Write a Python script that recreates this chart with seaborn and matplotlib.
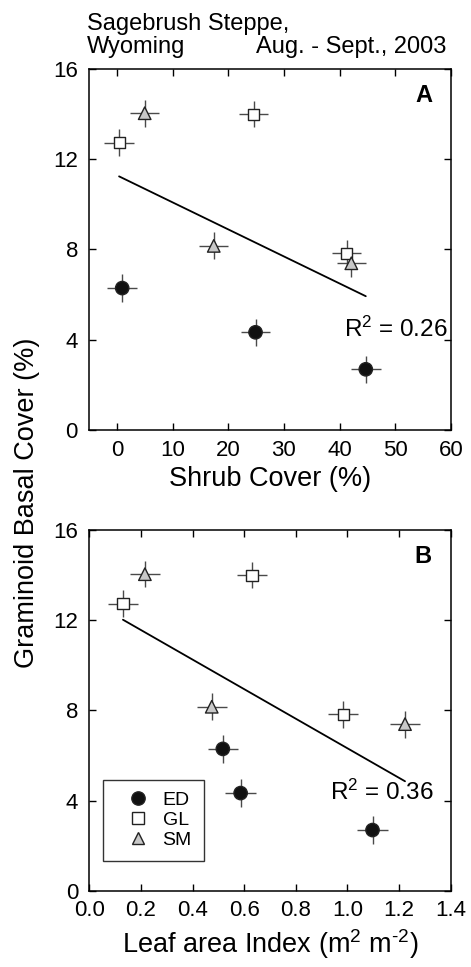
import matplotlib
matplotlib.use("Agg")
import matplotlib.pyplot as plt
from matplotlib.lines import Line2D
import seaborn as sns
import pandas as pd

# ---------------- data ----------------
sites = ["ED", "ED", "ED", "GL", "GL", "GL", "SM", "SM", "SM"]
shrub_cover = [0.96, 24.9, 44.7, 0.4, 24.6, 41.3, 5.0, 17.4, 42.1]
shrub_err = [2.65, 2.65, 2.7, 2.65, 2.6, 2.6, 2.65, 2.6, 2.6]
leaf_area_index = [0.517, 0.586, 1.097, 0.13, 0.63, 0.984, 0.215, 0.474, 1.223]
lai_err = [0.058, 0.059, 0.06, 0.058, 0.058, 0.058, 0.058, 0.058, 0.058]
basal_cover = [6.29, 4.33, 2.69, 12.73, 14.0, 7.83, 14.04, 8.16, 7.39]
basal_err = [0.62, 0.61, 0.61, 0.6, 0.59, 0.6, 0.59, 0.6, 0.6]

r2_texts = ["R$^2$ = 0.26", "R$^2$ = 0.36"]
panel_labels = ["A", "B"]
xticks_a = [0, 10, 20, 30, 40, 50, 60]
xticks_b = [0.0, 0.2, 0.4, 0.6, 0.8, 1.0, 1.2, 1.4]
yticks = [0, 4, 8, 12, 16]

df = pd.DataFrame({"site": sites, "shrub": shrub_cover, "shrub_err": shrub_err,
                   "lai": leaf_area_index, "lai_err": lai_err,
                   "basal": basal_cover, "basal_err": basal_err})

# ---------------- style ----------------
sns.set_style("ticks")
plt.rcParams["font.family"] = ["Liberation Sans", "DejaVu Sans"]
plt.rcParams["mathtext.fontset"] = "custom"
plt.rcParams["mathtext.rm"] = "Liberation Sans"
plt.rcParams["mathtext.it"] = "Liberation Sans:italic"
plt.rcParams["mathtext.bf"] = "Liberation Sans:bold"
plt.rcParams["mathtext.default"] = "regular"
plt.rcParams["text.color"] = "black"
plt.rcParams["axes.labelcolor"] = "black"
plt.rcParams["xtick.color"] = "black"
plt.rcParams["ytick.color"] = "black"
plt.rcParams["axes.unicode_minus"] = False

markers = {"ED": "o", "GL": "s", "SM": "^"}
palette = {"ED": "#111111", "GL": "#ffffff", "SM": "#c8c8c8"}
sizes = {"ED": 92, "GL": 64, "SM": 81}
err_color = "#4a4a4a"

W, H = 471, 967
fig = plt.figure(figsize=(W / 100, H / 100), dpi=100)
axA = fig.add_axes([89 / W, 1 - 430 / H, (451 - 89) / W, (430 - 69) / H])
axB = fig.add_axes([89.4 / W, 1 - 890.7 / H, (450.7 - 89.4) / W, (890.7 - 530) / H])


def draw_panel(ax, xcol, xerrcol, xlim, xticks, xfmt, xlabel, r2, r2pos, label):
    ax.errorbar(df[xcol], df["basal"], xerr=df[xerrcol], yerr=df["basal_err"],
                fmt="none", ecolor=err_color, elinewidth=1.0, capsize=0, zorder=2)
    sns.regplot(data=df, x=xcol, y="basal", scatter=False, ci=None, truncate=True,
                color="black", line_kws={"lw": 1.3, "zorder": 1}, ax=ax)
    sns.scatterplot(data=df, x=xcol, y="basal", hue="site", style="site", size="site",
                    markers=markers, palette=palette, sizes=sizes,
                    edgecolor="#222222", linewidth=1.0, legend=False, zorder=3, ax=ax)
    ax.set_xlim(*xlim)
    ax.set_ylim(0, 16)
    ax.set_xticks(xticks)
    ax.set_xticklabels([xfmt.format(v) for v in xticks])
    ax.set_yticks(yticks)
    ax.tick_params(direction="in", top=True, right=True, length=5, width=1.0,
                   labelsize=16, colors="black")
    ax.tick_params(axis="x", pad=7)
    ax.tick_params(axis="y", pad=8)
    for s in ax.spines.values():
        s.set_linewidth(1.1)
        s.set_color("black")
    ax.set_xlabel(xlabel, fontsize=19.5, labelpad=4, color="black")
    ax.set_ylabel("")
    ax.text(r2pos[0], r2pos[1], r2, fontsize=17.5, ha="left", va="baseline",
            transform=ax.transData, color="black")
    ax.text(0.9475, 0.909, label, fontsize=17, fontweight="bold", ha="right",
            va="baseline", transform=ax.transAxes, color="black")


draw_panel(axA, "shrub", "shrub_err", (-5, 60), xticks_a, "{:d}", "Shrub Cover (%)",
           r2_texts[0], (40.7, 4.11), panel_labels[0])
draw_panel(axB, "lai", "lai_err", (0, 1.4), xticks_b, "{:.1f}",
           "Leaf area Index (m$^2$ m$^{\u2010 2}$)".replace("\u2010 ", "\u2010"),
           r2_texts[1], (0.933, 4.02), panel_labels[1])

# legend in panel B
handles = [Line2D([], [], linestyle="none", marker=markers[k], markersize=sizes[k] ** 0.5,
                  markerfacecolor=palette[k], markeredgecolor="#222222",
                  markeredgewidth=1.0, label=k) for k in ["ED", "GL", "SM"]]
leg = axB.legend(handles=handles, loc="upper left", bbox_to_anchor=(0.0385, 0.307),
                 fontsize=14, frameon=True, fancybox=False, edgecolor="black",
                 borderpad=0.6, handlelength=2.4, handletextpad=0.05,
                 labelspacing=0.12, borderaxespad=0)
leg.get_frame().set_linewidth(1.0)
for t in leg.get_texts():
    t.set_color("black")

# header texts
fig.text(87 / W, 1 - 30 / H, "Sagebrush Steppe,", fontsize=17, ha="left", va="baseline")
fig.text(87 / W, 1 - 53.3 / H, "Wyoming", fontsize=17, ha="left", va="baseline")
fig.text(446.7 / W, 1 - 53.3 / H, "Aug. - Sept., 2003", fontsize=17, ha="right",
         va="baseline")

# shared y label
fig.text(27 / W, 1 - 503 / H, "Graminoid Basal Cover (%)", fontsize=19.5,
         rotation=90, ha="center", va="center")

fig.savefig("out.png", dpi=100, facecolor="white")
